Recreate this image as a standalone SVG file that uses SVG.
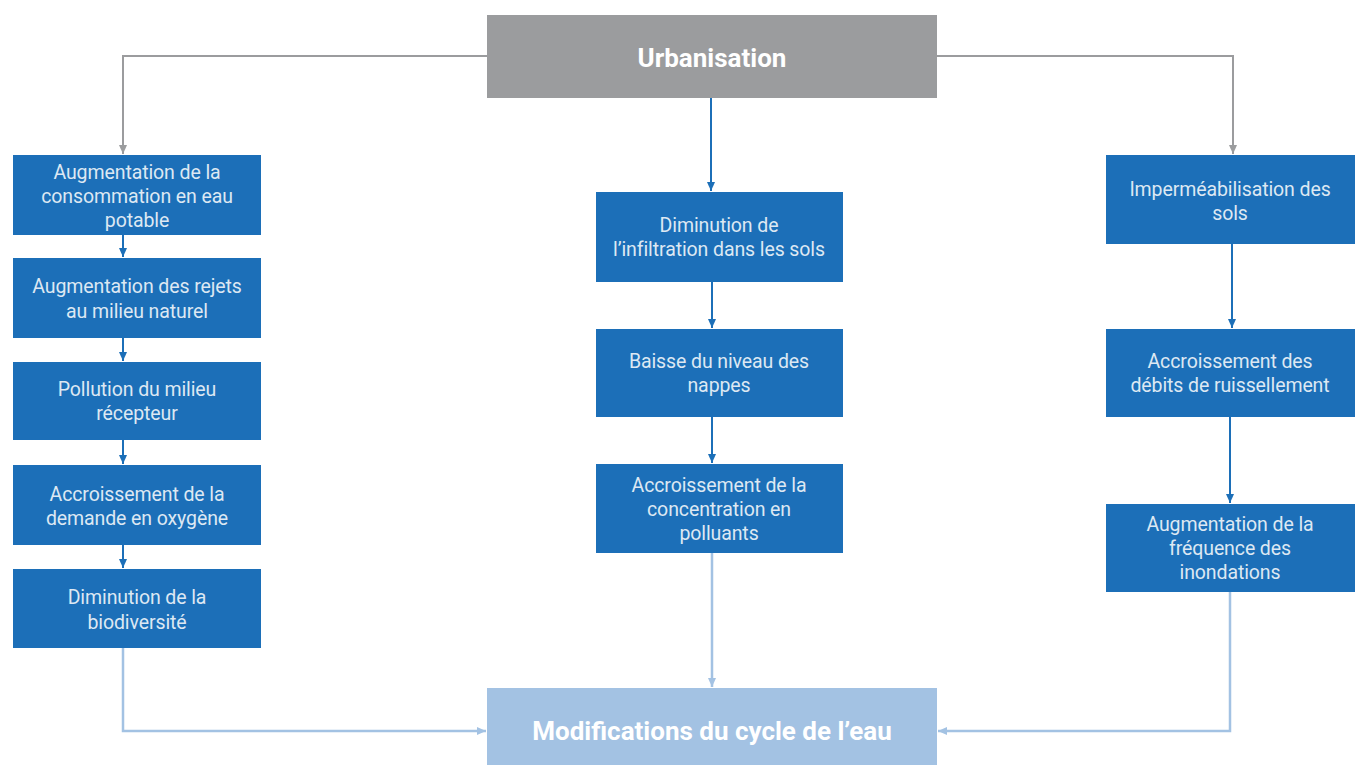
<svg xmlns="http://www.w3.org/2000/svg" width="1356" height="765" viewBox="0 0 1356 765">
<style>
.bx{fill:#1c6fb8;}
.t{font-family:Roboto,"Liberation Sans",sans-serif;font-size:19.5px;fill:#dde8f3;text-anchor:middle;letter-spacing:-0.1px;}
.tb{font-family:Roboto,"Liberation Sans",sans-serif;font-weight:bold;fill:#ffffff;text-anchor:middle;font-size:26px;}
.cg{fill:none;stroke:#9b9c9e;stroke-width:2;}
.cb{fill:none;stroke:#1c6fb8;stroke-width:2;}
.cl{fill:none;stroke:#a3c2e3;stroke-width:2.5;}
</style>
<defs>
<marker id="ag" markerWidth="10" markerHeight="8" refX="9" refY="4" orient="auto" markerUnits="userSpaceOnUse"><path d="M0,0 L9,4 L0,8 z" fill="#9b9c9e"/></marker>
<marker id="ab" markerWidth="10" markerHeight="8" refX="9" refY="4" orient="auto" markerUnits="userSpaceOnUse"><path d="M0,0 L9,4 L0,8 z" fill="#1c6fb8"/></marker>
<marker id="al" markerWidth="10" markerHeight="8" refX="9" refY="4" orient="auto" markerUnits="userSpaceOnUse"><path d="M0,0 L9,4 L0,8 z" fill="#a3c2e3"/></marker>
</defs>
<rect width="1356" height="765" fill="#ffffff"/>
<g id="connectors">
<path class="cg" d="M487,56 H123 V154" marker-end="url(#ag)"/>
<path class="cg" d="M937,56 H1233 V154" marker-end="url(#ag)"/>
<path class="cb" d="M711,98 V191" marker-end="url(#ab)"/>
<path class="cb" d="M123,235 V257" marker-end="url(#ab)"/>
<path class="cb" d="M123,338 V361" marker-end="url(#ab)"/>
<path class="cb" d="M123,440 V464" marker-end="url(#ab)"/>
<path class="cb" d="M123,545 V568" marker-end="url(#ab)"/>
<path class="cb" d="M712,282 V328" marker-end="url(#ab)"/>
<path class="cb" d="M712,417 V463" marker-end="url(#ab)"/>
<path class="cb" d="M1232,244 V328" marker-end="url(#ab)"/>
<path class="cb" d="M1230,417 V503" marker-end="url(#ab)"/>
<path class="cl" d="M123,648 V731 H486" marker-end="url(#al)"/>
<path class="cl" d="M712,553 V687" marker-end="url(#al)"/>
<path class="cl" d="M1230,592 V731 H938" marker-end="url(#al)"/>
</g>
<g id="urbanisation">
<rect x="487" y="15" width="450" height="83" fill="#9b9c9e"/>
<text class="tb" x="712" y="67">Urbanisation</text>
</g>
<g id="l1"><rect class="bx" x="13" y="155" width="248" height="80"/>
<text class="t" x="137" y="179">Augmentation de la</text><text class="t" x="137" y="203">consommation en eau</text><text class="t" x="137" y="227">potable</text></g>
<g id="l2"><rect class="bx" x="13" y="258" width="248" height="80"/>
<text class="t" x="137" y="293">Augmentation des rejets</text><text class="t" x="137" y="318">au milieu naturel</text></g>
<g id="l3"><rect class="bx" x="13" y="362" width="248" height="78"/>
<text class="t" x="137" y="396">Pollution du milieu</text><text class="t" x="137" y="420">récepteur</text></g>
<g id="l4"><rect class="bx" x="13" y="465" width="248" height="80"/>
<text class="t" x="137" y="501">Accroissement de la</text><text class="t" x="137" y="525">demande en oxygène</text></g>
<g id="l5"><rect class="bx" x="13" y="569" width="248" height="79"/>
<text class="t" x="137" y="604">Diminution de la</text><text class="t" x="137" y="629">biodiversité</text></g>
<g id="m1"><rect class="bx" x="596" y="192" width="247" height="90"/>
<text class="t" x="719" y="232">Diminution de</text><text class="t" x="719" y="256">l’infiltration dans les sols</text></g>
<g id="m2"><rect class="bx" x="596" y="329" width="247" height="88"/>
<text class="t" x="719" y="368">Baisse du niveau des</text><text class="t" x="719" y="392">nappes</text></g>
<g id="m3"><rect class="bx" x="596" y="464" width="247" height="89"/>
<text class="t" x="719" y="492">Accroissement de la</text><text class="t" x="719" y="516">concentration en</text><text class="t" x="719" y="540">polluants</text></g>
<g id="r1"><rect class="bx" x="1106" y="155" width="249" height="89"/>
<text class="t" x="1230" y="196">Imperméabilisation des</text><text class="t" x="1230" y="220">sols</text></g>
<g id="r2"><rect class="bx" x="1106" y="329" width="249" height="88"/>
<text class="t" x="1230" y="368">Accroissement des</text><text class="t" x="1230" y="392">débits de ruissellement</text></g>
<g id="r3"><rect class="bx" x="1106" y="504" width="249" height="88"/>
<text class="t" x="1230" y="531">Augmentation de la</text><text class="t" x="1230" y="555">fréquence des</text><text class="t" x="1230" y="579">inondations</text></g>
<g id="modifications">
<rect x="487" y="688" width="450" height="77" fill="#a3c2e3"/>
<text class="tb" x="712" y="740">Modifications du cycle de l’eau</text>
</g>
</svg>
